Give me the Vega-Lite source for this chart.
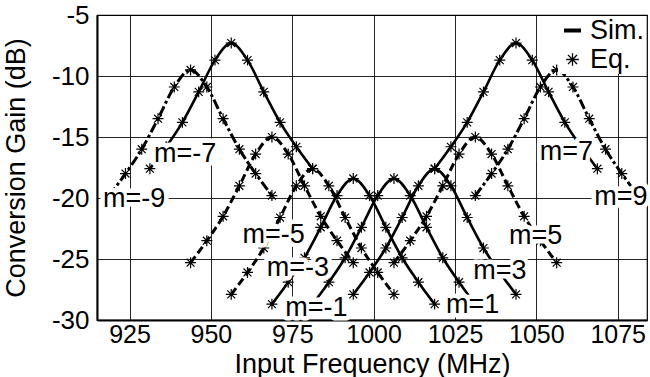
{
  "$schema": "https://vega.github.io/schema/vega-lite/v6.json",
  "width": 550,
  "height": 305,
  "autosize": {"type": "none"},
  "padding": {"left": 97, "top": 15, "right": 3, "bottom": 57},
  "background": "white",
  "config": {
    "font": "Liberation Sans",
    "view": {"stroke": "black", "strokeWidth": 1.2},
    "axis": {
      "domainColor": "black",
      "domainWidth": 2,
      "ticks": false,
      "grid": true,
      "gridColor": "black",
      "gridOpacity": 0.85,
      "gridWidth": 1,
      "labelFont": "Liberation Sans",
      "labelFontSize": 26,
      "labelColor": "black",
      "titleFont": "Liberation Sans",
      "titleFontSize": 27,
      "titleFontWeight": "normal",
      "titleColor": "black"
    }
  },
  "datasets": {
    "curves": [
      {"m": -9, "f": 918.75, "gain": -19.8}, {"m": -9, "f": 923.75, "gain": -18.0}, {"m": -9, "f": 928.75, "gain": -16.0}, {"m": -9, "f": 933.75, "gain": -13.5}, {"m": -9, "f": 938.75, "gain": -10.9}, {"m": -9, "f": 943.75, "gain": -9.5}, {"m": -9, "f": 948.75, "gain": -10.9}, {"m": -9, "f": 953.75, "gain": -13.5}, {"m": -9, "f": 958.75, "gain": -16.0}, {"m": -9, "f": 963.75, "gain": -18.0}, {"m": -9, "f": 968.75, "gain": -19.8},
      {"m": -7, "f": 931.25, "gain": -17.6}, {"m": -7, "f": 936.25, "gain": -15.8}, {"m": -7, "f": 941.25, "gain": -13.8}, {"m": -7, "f": 946.25, "gain": -11.3}, {"m": -7, "f": 951.25, "gain": -8.7}, {"m": -7, "f": 956.25, "gain": -7.3}, {"m": -7, "f": 961.25, "gain": -8.7}, {"m": -7, "f": 966.25, "gain": -11.3}, {"m": -7, "f": 971.25, "gain": -13.8}, {"m": -7, "f": 976.25, "gain": -15.8}, {"m": -7, "f": 981.25, "gain": -17.6},
      {"m": -5, "f": 943.75, "gain": -25.3}, {"m": -5, "f": 948.75, "gain": -23.5}, {"m": -5, "f": 953.75, "gain": -21.5}, {"m": -5, "f": 958.75, "gain": -19.0}, {"m": -5, "f": 963.75, "gain": -16.4}, {"m": -5, "f": 968.75, "gain": -15.0}, {"m": -5, "f": 973.75, "gain": -16.4}, {"m": -5, "f": 978.75, "gain": -19.0}, {"m": -5, "f": 983.75, "gain": -21.5}, {"m": -5, "f": 988.75, "gain": -23.5}, {"m": -5, "f": 993.75, "gain": -25.3},
      {"m": -3, "f": 956.25, "gain": -27.9}, {"m": -3, "f": 961.25, "gain": -26.1}, {"m": -3, "f": 966.25, "gain": -24.1}, {"m": -3, "f": 971.25, "gain": -21.6}, {"m": -3, "f": 976.25, "gain": -19.0}, {"m": -3, "f": 981.25, "gain": -17.6}, {"m": -3, "f": 986.25, "gain": -19.0}, {"m": -3, "f": 991.25, "gain": -21.6}, {"m": -3, "f": 996.25, "gain": -24.1}, {"m": -3, "f": 1001.25, "gain": -26.1}, {"m": -3, "f": 1006.25, "gain": -27.9},
      {"m": -1, "f": 968.75, "gain": -28.7}, {"m": -1, "f": 973.75, "gain": -26.9}, {"m": -1, "f": 978.75, "gain": -24.9}, {"m": -1, "f": 983.75, "gain": -22.4}, {"m": -1, "f": 988.75, "gain": -19.8}, {"m": -1, "f": 993.75, "gain": -18.4}, {"m": -1, "f": 998.75, "gain": -19.8}, {"m": -1, "f": 1003.75, "gain": -22.4}, {"m": -1, "f": 1008.75, "gain": -24.9}, {"m": -1, "f": 1013.75, "gain": -26.9}, {"m": -1, "f": 1018.75, "gain": -28.7},
      {"m": 1, "f": 981.25, "gain": -28.7}, {"m": 1, "f": 986.25, "gain": -26.9}, {"m": 1, "f": 991.25, "gain": -24.9}, {"m": 1, "f": 996.25, "gain": -22.4}, {"m": 1, "f": 1001.25, "gain": -19.8}, {"m": 1, "f": 1006.25, "gain": -18.4}, {"m": 1, "f": 1011.25, "gain": -19.8}, {"m": 1, "f": 1016.25, "gain": -22.4}, {"m": 1, "f": 1021.25, "gain": -24.9}, {"m": 1, "f": 1026.25, "gain": -26.9}, {"m": 1, "f": 1031.25, "gain": -28.7},
      {"m": 3, "f": 993.75, "gain": -27.9}, {"m": 3, "f": 998.75, "gain": -26.1}, {"m": 3, "f": 1003.75, "gain": -24.1}, {"m": 3, "f": 1008.75, "gain": -21.6}, {"m": 3, "f": 1013.75, "gain": -19.0}, {"m": 3, "f": 1018.75, "gain": -17.6}, {"m": 3, "f": 1023.75, "gain": -19.0}, {"m": 3, "f": 1028.75, "gain": -21.6}, {"m": 3, "f": 1033.75, "gain": -24.1}, {"m": 3, "f": 1038.75, "gain": -26.1}, {"m": 3, "f": 1043.75, "gain": -27.9},
      {"m": 5, "f": 1006.25, "gain": -25.3}, {"m": 5, "f": 1011.25, "gain": -23.5}, {"m": 5, "f": 1016.25, "gain": -21.5}, {"m": 5, "f": 1021.25, "gain": -19.0}, {"m": 5, "f": 1026.25, "gain": -16.4}, {"m": 5, "f": 1031.25, "gain": -15.0}, {"m": 5, "f": 1036.25, "gain": -16.4}, {"m": 5, "f": 1041.25, "gain": -19.0}, {"m": 5, "f": 1046.25, "gain": -21.5}, {"m": 5, "f": 1051.25, "gain": -23.5}, {"m": 5, "f": 1056.25, "gain": -25.3},
      {"m": 7, "f": 1018.75, "gain": -17.6}, {"m": 7, "f": 1023.75, "gain": -15.8}, {"m": 7, "f": 1028.75, "gain": -13.8}, {"m": 7, "f": 1033.75, "gain": -11.3}, {"m": 7, "f": 1038.75, "gain": -8.7}, {"m": 7, "f": 1043.75, "gain": -7.3}, {"m": 7, "f": 1048.75, "gain": -8.7}, {"m": 7, "f": 1053.75, "gain": -11.3}, {"m": 7, "f": 1058.75, "gain": -13.8}, {"m": 7, "f": 1063.75, "gain": -15.8}, {"m": 7, "f": 1068.75, "gain": -17.6},
      {"m": 9, "f": 1031.25, "gain": -19.8}, {"m": 9, "f": 1036.25, "gain": -18.0}, {"m": 9, "f": 1041.25, "gain": -16.0}, {"m": 9, "f": 1046.25, "gain": -13.5}, {"m": 9, "f": 1051.25, "gain": -10.9}, {"m": 9, "f": 1056.25, "gain": -9.5}, {"m": 9, "f": 1061.25, "gain": -10.9}, {"m": 9, "f": 1066.25, "gain": -13.5}, {"m": 9, "f": 1071.25, "gain": -16.0}, {"m": 9, "f": 1076.25, "gain": -18.0}, {"m": 9, "f": 1081.25, "gain": -19.8}
    ],
    "labels": [
      {"label": "m=-9", "f": 926.4, "gain": -20.1},
      {"label": "m=-7", "f": 942.1, "gain": -16.37},
      {"label": "m=-5", "f": 969.3, "gain": -23.0},
      {"label": "m=-3", "f": 976.7, "gain": -25.7},
      {"label": "m=-1", "f": 982.4, "gain": -29.0},
      {"label": "m=1", "f": 1030.4, "gain": -28.8},
      {"label": "m=3", "f": 1038.8, "gain": -26.0},
      {"label": "m=5", "f": 1049.8, "gain": -23.1},
      {"label": "m=7", "f": 1059.2, "gain": -16.2},
      {"label": "m=9", "f": 1076.0, "gain": -19.9}
    ]
  },
  "encoding": {
    "x": {
      "field": "f",
      "type": "quantitative",
      "scale": {"domain": [915, 1084], "nice": false, "zero": false},
      "axis": {
        "title": "Input Frequency (MHz)",
        "values": [925, 950, 975, 1000, 1025, 1050, 1075],
        "format": "d",
        "labelFontSize": 25,
        "labelPadding": 2,
        "titleX": 275,
        "titleY": 52,
        "titleBaseline": "alphabetic"
      }
    },
    "y": {
      "field": "gain",
      "type": "quantitative",
      "scale": {"domain": [-30, -5], "nice": false, "zero": false},
      "axis": {
        "title": "Conversion Gain (dB)",
        "values": [-30, -25, -20, -15, -10, -5],
        "labelExpr": "toString(datum.value)",
        "labelPadding": 8,
        "titleX": -73,
        "titleY": 152.5,
        "titleAngle": 270,
        "titleAlign": "center",
        "titleBaseline": "alphabetic"
      }
    }
  },
  "layer": [
    {
      "data": {"name": "curves"},
      "transform": [{"filter": {"field": "m", "oneOf": [-7, -1, 1, 3, 7]}}],
      "mark": {"type": "line", "strokeWidth": 2.6, "interpolate": "monotone"},
      "encoding": {
        "detail": {"field": "m", "type": "nominal"},
        "color": {
          "datum": "Sim.",
          "scale": {"domain": ["Sim.", "Eq."], "range": ["black", "black"]},
          "legend": {
            "title": null,
            "orient": "none",
            "legendX": 461,
            "legendY": 1,
            "padding": 1,
            "fillColor": "white",
            "labelFont": "Liberation Sans",
            "labelFontSize": 27,
            "labelColor": "black",
            "labelOffset": 4,
            "labelLimit": 200,
            "rowPadding": 1,
            "symbolSize": 289,
            "encode": {
              "symbols": {
                "update": {
                  "shape": {"signal": "datum.value === 'Sim.' ? 'stroke' : 'M-1,0L1,0M0,-1L0,1M-0.72,-0.72L0.72,0.72M-0.72,0.72L0.72,-0.72'"},
                  "size": {"signal": "datum.value === 'Sim.' ? 289 : 160"},
                  "strokeWidth": {"signal": "datum.value === 'Sim.' ? 4 : 1.3"},
                  "stroke": {"value": "black"},
                  "fill": {"value": "transparent"},
                  "strokeDash": {"value": [1, 0]},
                  "opacity": {"value": 1}
                }
              }
            }
          }
        }
      }
    },
    {
      "data": {"name": "curves"},
      "transform": [{"filter": {"field": "m", "oneOf": [-5, -3, 5]}}],
      "mark": {"type": "line", "strokeWidth": 3, "interpolate": "monotone", "strokeDash": [8, 4]},
      "encoding": {
        "detail": {"field": "m", "type": "nominal"},
        "color": {"datum": "Sim."}
      }
    },
    {
      "data": {"name": "curves"},
      "transform": [{"filter": {"field": "m", "oneOf": [-9, 9]}}],
      "mark": {"type": "line", "strokeWidth": 3, "interpolate": "monotone", "strokeDash": [10, 3, 3, 3]},
      "encoding": {
        "detail": {"field": "m", "type": "nominal"},
        "color": {"datum": "Sim."}
      }
    },
    {
      "data": {"name": "curves"},
      "mark": {
        "type": "point",
        "shape": "M-1,0L1,0M0,-1L0,1M-0.72,-0.72L0.72,0.72M-0.72,0.72L0.72,-0.72",
        "size": 120,
        "filled": false,
        "strokeWidth": 1.2,
        "opacity": 1
      },
      "encoding": {
        "color": {"datum": "Eq."}
      }
    },
    {
      "data": {"name": "labels"},
      "mark": {
        "type": "text",
        "fontSize": 27,
        "font": "Liberation Sans",
        "align": "center",
        "baseline": "middle",
        "fill": "white",
        "stroke": "white",
        "strokeWidth": 9,
        "strokeJoin": "round"
      },
      "encoding": {"text": {"field": "label"}}
    },
    {
      "data": {"name": "labels"},
      "mark": {
        "type": "text",
        "fontSize": 27,
        "font": "Liberation Sans",
        "align": "center",
        "baseline": "middle",
        "fill": "black"
      },
      "encoding": {"text": {"field": "label"}}
    }
  ]
}
